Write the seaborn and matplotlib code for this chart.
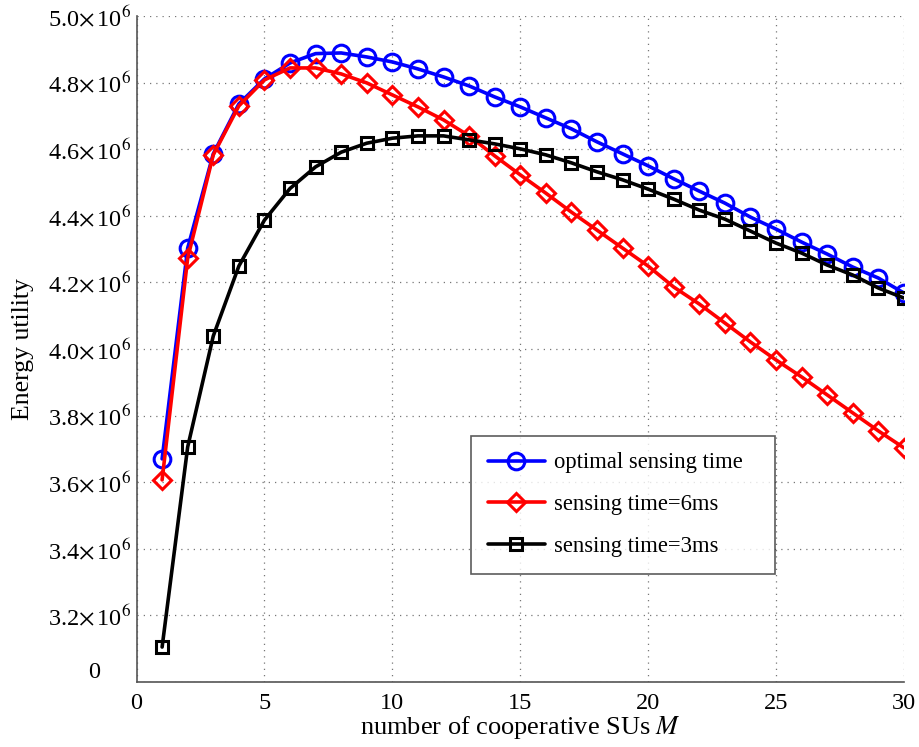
import numpy as np
import pandas as pd
import matplotlib
matplotlib.use("Agg")
import matplotlib.pyplot as plt
import matplotlib.transforms as mtransforms
import seaborn as sns

# data
M = list(range(1, 31))
optimal = [3.670, 4.303, 4.586, 4.736, 4.811, 4.859, 4.887, 4.889, 4.877, 4.862,
           4.841, 4.817, 4.790, 4.757, 4.727, 4.694, 4.661, 4.622, 4.586, 4.550,
           4.511, 4.474, 4.438, 4.396, 4.360, 4.321, 4.285, 4.246, 4.213, 4.168]
t6ms = [3.607, 4.273, 4.583, 4.730, 4.808, 4.844, 4.844, 4.826, 4.799, 4.763,
        4.727, 4.688, 4.640, 4.580, 4.523, 4.468, 4.411, 4.357, 4.303, 4.249,
        4.186, 4.135, 4.078, 4.021, 3.967, 3.916, 3.862, 3.808, 3.754, 3.703]
t3ms = [3.105, 3.706, 4.039, 4.249, 4.387, 4.482, 4.547, 4.591, 4.618, 4.633,
        4.640, 4.640, 4.628, 4.616, 4.601, 4.583, 4.559, 4.532, 4.508, 4.480,
        4.450, 4.417, 4.390, 4.354, 4.318, 4.288, 4.252, 4.222, 4.183, 4.153]
labels = ['optimal sensing time', 'sensing time=6ms', 'sensing time=3ms']
yticks = [3.0, 3.2, 3.4, 3.6, 3.8, 4.0, 4.2, 4.4, 4.6, 4.8, 5.0]

sns.set_style("white")
plt.rcParams['font.family'] = ['Liberation Serif', 'DejaVu Serif']
plt.rcParams['mathtext.fontset'] = 'stix'
plt.rcParams['text.color'] = 'black'
plt.rcParams['axes.labelcolor'] = 'black'

fig = plt.figure(figsize=(9.2, 7.47), dpi=100)
ax = fig.add_axes([0.1484, 0.087, 0.8342, 0.8916])

series = [(optimal, 'blue', 'o', 12), (t6ms, 'red', 'D', 9.5), (t3ms, 'black', 's', 9)]
for (vals, c, mk, ms), lab in zip(series, labels):
    sns.lineplot(x=M, y=np.array(vals) * 1e6, color=c, marker=mk,
                 markersize=ms, markerfacecolor='none', markeredgecolor=c,
                 markeredgewidth=2.2, linewidth=2.6, label=lab, ax=ax)

ax.set_xlim(0, 30)
ax.set_ylim(3.0e6, 5.0e6)
ax.set_xticks(range(0, 31, 5))
ax.set_yticks([v * 1e6 for v in yticks])
ylabs = [''] + [r'%.1f$\times\,$10$^{6}$' % v for v in yticks[1:]]
ax.set_yticklabels(ylabs)
# the bottom "0" label sits a little above the axis in the original
ax.text(-0.048, 3.03e6, '0', transform=mtransforms.blended_transform_factory(ax.transAxes, ax.transData),
        ha='right', va='center', fontsize=17.5, color='black')

ax.grid(True, linestyle=(0, (1, 4)), color='#777777', linewidth=0.9)
for side in ['top', 'right']:
    ax.spines[side].set_visible(False)
for side in ['left', 'bottom']:
    ax.spines[side].set_color('#555555')
    ax.spines[side].set_linewidth(1.2)
ax.tick_params(direction='in', length=6, width=1, colors='#555555', labelcolor='black',
               labelsize=17.5)
ax.tick_params(axis='y', pad=4)
ax.tick_params(axis='x', pad=8)

ax.set_xlabel('number of cooperative SUs $M$', fontsize=19, labelpad=0)
ax.set_ylabel('Energy utility', fontsize=18.5, labelpad=10)

leg = ax.legend(loc='lower left', bbox_to_anchor=(0.436, 0.162, 0.396, 0.212),
                mode='expand', borderaxespad=0, fontsize=16.3, frameon=True, fancybox=False,
                edgecolor='#333333', handlelength=2.5, labelspacing=0.92,
                borderpad=0.75, handletextpad=0.4)
leg.get_frame().set_linewidth(1.2)

fig.savefig('out.png', dpi=100)
